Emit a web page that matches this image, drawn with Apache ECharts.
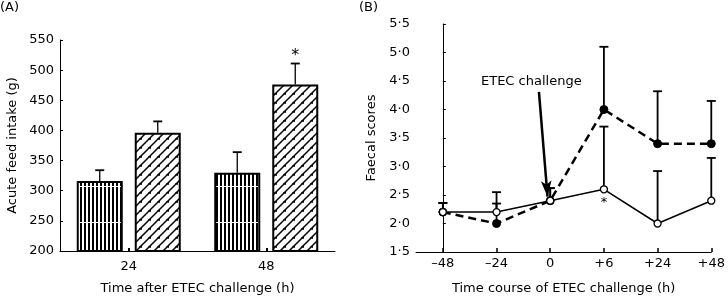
<!DOCTYPE html>
<html><head><meta charset="utf-8">
<script src="https://cdn.jsdelivr.net/npm/echarts@6/dist/echarts.min.js"></script>
<style>html,body{margin:0;padding:0;background:#fff}#c{width:728px;height:300px}</style>
</head><body><div id="c"></div>
<script>
// ---------- Panel A data ----------
const catsA = ['24', '48'];
const ctrlA = [316, 330];
const ctrlAErr = [334, 364];
const trtA = [396, 476];
const trtAErr = [415, 511];
const sigA = [false, true];
const yMinA = 200, yMaxA = 550, yStepA = 50;

// ---------- Panel B data ----------
const xLabelsB = ['\u201348', '\u201324', '0', '+6', '+24', '+48'];
const openB = [2.2, 2.2, 2.4, 2.6, 2.0, 2.4];
const openBErr = [2.36, 2.55, 2.62, 3.7, 2.92, 3.15];
const filledB = [2.2, 2.0, 2.4, 4.0, 3.4, 3.4];
const filledBErr = [2.36, 2.35, 2.62, 5.1, 4.32, 4.15];
const sigB = [false, false, false, true, false, false];
const yMinB = 1.5, yMaxB = 5.5, yStepB = 0.5;
const annoText = 'ETEC challenge';
const annoStart = [1.79, 4.31];
const annoEnd = [1.95, 2.47];

const FONT = 'DejaVu Sans';
const BAR_W = 46, BAR_GAP_PX = 12;

function stripeTile() {
  const c = document.createElement('canvas');
  c.width = 4; c.height = 36;
  const g = c.getContext('2d');
  g.fillStyle = '#fff'; g.fillRect(0, 0, 4, 36);
  g.fillStyle = '#000'; g.fillRect(0, 0, 2, 36);
  g.fillStyle = '#fff'; g.fillRect(0, 6, 4, 1);
  return c;
}
function hatchTile() {
  const s = 9;
  const c = document.createElement('canvas');
  c.width = s; c.height = s;
  const g = c.getContext('2d');
  g.fillStyle = '#fff'; g.fillRect(0, 0, s, s);
  g.strokeStyle = '#000'; g.lineWidth = 1.5;
  g.beginPath();
  g.moveTo(-1, s + 1); g.lineTo(s + 1, -1);
  g.moveTo(-2, 2); g.lineTo(2, -2);
  g.moveTo(s - 2, s + 2); g.lineTo(s + 2, s - 2);
  g.moveTo(s / 2 - 0.5, s / 2 - 0.5); g.lineTo(s / 2 + 2.5, s / 2 - 0.5);
  g.stroke();
  return c;
}

const chart = echarts.init(document.getElementById('c'), null, {renderer: 'canvas'});

function errA(params, api) {
  const idx = api.value(0), top = api.value(1), e = api.value(2), side = api.value(3), sig = api.value(4);
  const off = side * (BAR_W + BAR_GAP_PX) / 2;
  const p0 = api.coord([idx, top]), p1 = api.coord([idx, e]);
  const x = p0[0] + off;
  const ch = [
    {type: 'line', shape: {x1: x, y1: p0[1], x2: x, y2: p1[1]}, style: {stroke: '#000', lineWidth: 1.3}},
    {type: 'line', shape: {x1: x - 4.5, y1: p1[1], x2: x + 4.5, y2: p1[1]}, style: {stroke: '#000', lineWidth: 1.8}}
  ];
  if (sig) ch.push({type: 'text', style: {text: '*', x: x, y: p1[1] - 8, align: 'center', verticalAlign: 'middle', font: '16px ' + FONT, fill: '#000'}});
  return {type: 'group', children: ch};
}
function errB(params, api) {
  const idx = api.value(0), v = api.value(1), e = api.value(2), sig = api.value(3);
  const p0 = api.coord([idx, v]), p1 = api.coord([idx, e]);
  const ch = [
    {type: 'line', shape: {x1: p0[0], y1: p0[1], x2: p1[0], y2: p1[1]}, style: {stroke: '#000', lineWidth: 1.8}},
    {type: 'line', shape: {x1: p1[0] - 4.5, y1: p1[1], x2: p1[0] + 4.5, y2: p1[1]}, style: {stroke: '#000', lineWidth: 1.8}}
  ];
  if (sig) ch.push({type: 'text', style: {text: '*', x: p0[0], y: p0[1] + 13, align: 'center', verticalAlign: 'middle', font: '13px ' + FONT, fill: '#000'}});
  return {type: 'group', children: ch};
}

const axisCommon = {
  axisLine: {show: true, lineStyle: {color: '#000', width: 1}},
  splitLine: {show: false},
  axisLabel: {color: '#000', fontFamily: FONT, fontSize: 13},
  nameTextStyle: {color: '#000', fontFamily: FONT, fontSize: 13}
};

const option = {
  animation: false,
  backgroundColor: '#fff',
  textStyle: {fontFamily: FONT, color: '#000'},
  grid: [
    {left: 60, top: 40, width: 275, height: 213},
    {left: 416, top: 24, width: 300, height: 229}
  ],
  xAxis: [
    Object.assign({}, axisCommon, {
      type: 'category', gridIndex: 0, data: catsA,
      axisTick: {show: true, alignWithLabel: true, inside: true, length: 3, lineStyle: {color: '#000', width: 2}},
      axisLabel: Object.assign({}, axisCommon.axisLabel, {margin: 9}),
      name: 'Time after ETEC challenge (h)', nameLocation: 'middle', nameGap: 31
    }),
    Object.assign({}, axisCommon, {
      type: 'value', gridIndex: 1, min: -0.5, max: 5,
      axisTick: {show: true, inside: true, length: 4, customValues: [0, 1, 2, 3, 4, 5], lineStyle: {color: '#000', width: 1.5}},
      axisLabel: Object.assign({}, axisCommon.axisLabel, {margin: 5, customValues: [0, 1, 2, 3, 4, 5], formatter: v => xLabelsB[Math.round(v)]}),
      name: 'Time course of ETEC challenge (h)', nameLocation: 'middle', nameGap: 30
    })
  ],
  yAxis: [
    Object.assign({}, axisCommon, {
      type: 'value', gridIndex: 0, min: yMinA, max: yMaxA, interval: yStepA,
      axisTick: {show: true, inside: true, length: 3, lineStyle: {color: '#000'}},
      axisLabel: Object.assign({}, axisCommon.axisLabel, {margin: 6}),
      name: 'Acute feed intake (g)', nameLocation: 'middle', nameGap: 41
    }),
    Object.assign({}, axisCommon, {
      type: 'value', gridIndex: 1, min: yMinB, max: yMaxB, interval: yStepB,
      axisTick: {show: true, inside: true, length: 3, lineStyle: {color: '#000'}},
      axisLabel: Object.assign({}, axisCommon.axisLabel, {margin: 6, formatter: v => v.toFixed(1).replace('.', '\u00b7')}),
      name: 'Faecal scores', nameLocation: 'middle', nameGap: 38
    })
  ],
  graphic: [
    {type: 'text', left: 0, top: 1, style: {text: '(A)', font: '13px ' + FONT, fill: '#000'}},
    {type: 'text', left: 359, top: 1, style: {text: '(B)', font: '13px ' + FONT, fill: '#000'}},
    {type: 'text', left: 481, top: 75, style: {text: annoText, font: '13px ' + FONT, fill: '#000'}}
  ],
  series: [
    {
      type: 'bar', xAxisIndex: 0, yAxisIndex: 0, data: ctrlA, barWidth: BAR_W, barGap: (BAR_GAP_PX / BAR_W * 100) + '%',
      itemStyle: {color: {image: stripeTile(), repeat: 'repeat'}, borderColor: '#000', borderWidth: 2}, z: 2
    },
    {
      type: 'bar', xAxisIndex: 0, yAxisIndex: 0, data: trtA, barWidth: BAR_W,
      itemStyle: {color: {image: hatchTile(), repeat: 'repeat'}, borderColor: '#000', borderWidth: 2}, z: 2
    },
    {
      type: 'custom', xAxisIndex: 0, yAxisIndex: 0, renderItem: errA, z: 3,
      encode: {x: 0, y: 2},
      data: ctrlA.map((v, i) => [i, v, ctrlAErr[i], -1, 0]).concat(trtA.map((v, i) => [i, v, trtAErr[i], 1, sigA[i] ? 1 : 0]))
    },
    {
      type: 'custom', xAxisIndex: 1, yAxisIndex: 1, renderItem: errB, z: 1,
      encode: {x: 0, y: 2},
      data: filledB.map((v, i) => [i, v, filledBErr[i], 0]).concat(openB.map((v, i) => [i, v, openBErr[i], sigB[i] ? 1 : 0]))
    },
    {
      type: 'line', xAxisIndex: 1, yAxisIndex: 1, z: 2,
      data: filledB.map((v, i) => [i, v]),
      symbol: 'circle', symbolSize: 8, showSymbol: true,
      lineStyle: {color: '#000', width: 2.5, type: [8, 5]},
      itemStyle: {color: '#000', borderColor: '#000', borderWidth: 1},
      markLine: {
        silent: true, symbol: ['none', 'arrow'], symbolSize: [8, 16],
        lineStyle: {color: '#000', width: 2.5, type: 'solid'}, label: {show: false},
        data: [[{coord: annoStart}, {coord: annoEnd}]]
      }
    },
    {
      type: 'line', xAxisIndex: 1, yAxisIndex: 1, z: 3,
      data: openB.map((v, i) => [i, v]),
      symbol: 'circle', symbolSize: 7, showSymbol: true,
      lineStyle: {color: '#000', width: 1.5, type: 'solid'},
      itemStyle: {color: '#fff', borderColor: '#000', borderWidth: 1.3}
    }
  ]
};
chart.setOption(option);
</script>
</body></html>
